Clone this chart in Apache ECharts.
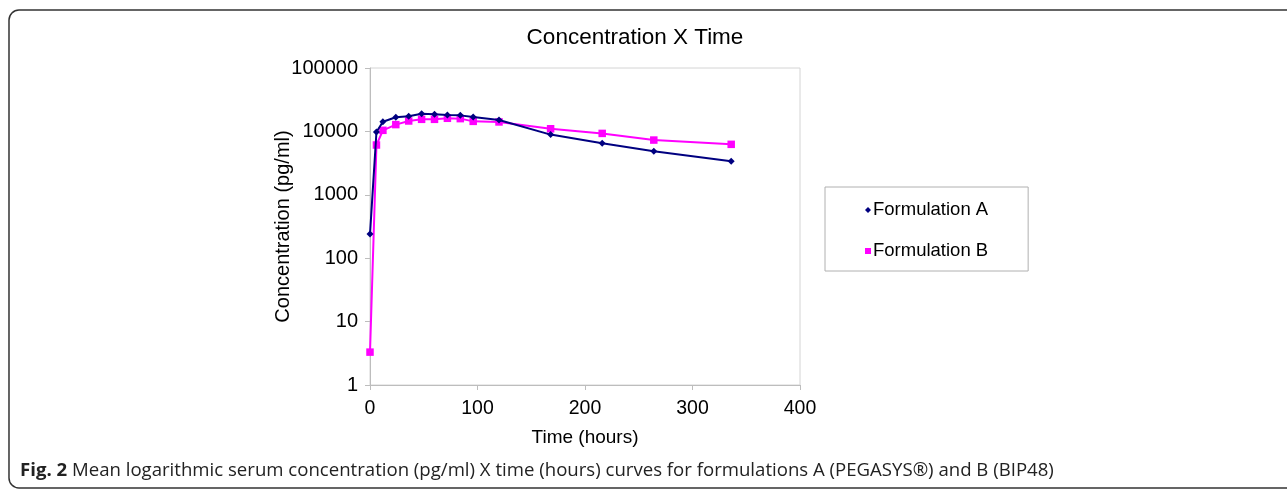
<!DOCTYPE html>
<html>
<head>
<meta charset="utf-8">
<script src="https://cdn.jsdelivr.net/npm/echarts@6/dist/echarts.min.js"></script>
<style>
html,body{margin:0;padding:0;background:#fff;}
#chart{width:1287px;height:490px;}
</style>
</head>
<body>
<div id="chart"></div>
<script>
var chartTitle = 'Concentration X Time';
var xName = 'Time (hours)';
var yName = 'Concentration (pg/ml)';
var seriesNames = ['Formulation A', 'Formulation B'];
var times = [0, 6, 12, 24, 36, 48, 60, 72, 84, 96, 120, 168, 216, 264, 336];
var formA = [240, 9800, 14200, 16700, 17300, 19000, 18600, 18100, 17900, 16900, 15100, 8900, 6500, 4850, 3380];
var formB = [3.3, 6100, 10400, 12800, 14600, 15500, 15500, 16100, 15900, 14400, 14100, 11000, 9300, 7300, 6250];
var captionBold = 'Fig. 2';
var captionText = ' Mean logarithmic serum concentration (pg/ml) X time (hours) curves for formulations A (PEGASYS\u00ae) and B (BIP48)';

function pairs(xs, ys) { return xs.map(function (x, i) { return [x, ys[i]]; }); }

var chart = echarts.init(document.getElementById('chart'), null, {renderer: 'canvas'});
var font = 'Liberation Sans, Arial, sans-serif';
var option = {
  animation: false,
  backgroundColor: '#fff',
  grid: {left: 370, top: 68, width: 430, height: 317, show: true, borderColor: '#d4d4d4', borderWidth: 1, backgroundColor: 'transparent'},
  xAxis: {
    type: 'value', min: 0, max: 400, interval: 100,
    name: xName, nameLocation: 'middle', nameGap: 43, nameMoveOverlap: false,
    nameTextStyle: {fontFamily: font, fontSize: 19, color: '#000'},
    axisLine: {show: true, lineStyle: {color: '#bdbdbd', width: 1}},
    axisTick: {show: true, length: 5, lineStyle: {color: '#bdbdbd'}},
    axisLabel: {fontFamily: font, fontSize: 19.5, color: '#000', margin: 14},
    splitLine: {show: false}
  },
  yAxis: {
    type: 'log', logBase: 10, min: 1, max: 100000, splitNumber: 5,
    name: yName, nameLocation: 'middle', nameGap: 77, nameRotate: 90, nameMoveOverlap: false,
    nameTextStyle: {fontFamily: font, fontSize: 20, color: '#000'},
    axisLine: {show: true, lineStyle: {color: '#bdbdbd', width: 1}},
    axisTick: {show: true, length: 5, lineStyle: {color: '#bdbdbd'}},
    axisLabel: {fontFamily: font, fontSize: 20, color: '#000', margin: 12,
      formatter: function (v) { return String(Math.round(v)); }},
    splitLine: {show: false}
  },
  legend: {
    orient: 'vertical', left: 825, top: 187,
    padding: [13, 40, 10, 40], itemGap: 21,
    borderColor: '#b0b0b0', borderWidth: 1,
    itemWidth: 6, itemHeight: 6,
    textStyle: {fontFamily: font, fontSize: 18.5, color: '#000', lineHeight: 20, padding: [0, 0, 0, -3]},
    data: [{name: seriesNames[0], icon: 'diamond'}, {name: seriesNames[1], icon: 'rect'}]
  },
  series: [
    {name: seriesNames[0], type: 'line', data: pairs(times, formA),
     symbol: 'diamond', symbolSize: 7, showSymbol: true,
     lineStyle: {color: '#000080', width: 2}, itemStyle: {color: '#000080'}, z: 3},
    {name: seriesNames[1], type: 'line', data: pairs(times, formB),
     symbol: 'rect', symbolSize: 7.5, showSymbol: true,
     lineStyle: {color: '#ff00ff', width: 2}, itemStyle: {color: '#ff00ff'}, z: 2}
  ],
  graphic: [
    {type: 'rect', shape: {x: 9, y: 10, width: 1320, height: 478, r: 10}, style: {fill: null, stroke: '#333', lineWidth: 1.5}, silent: true},
    {type: 'text', x: 635, y: 38, style: {text: chartTitle, font: '22.5px ' + font, fill: '#000', textAlign: 'center', textVerticalAlign: 'middle'}},
    {type: 'text', x: 20, y: 471, style: {
      text: '{b|' + captionBold + '}{n|' + captionText + '}',
      textVerticalAlign: 'middle',
      rich: {
        b: {fontFamily: 'Open Sans', fontWeight: 'bold', fontSize: 18.6, fill: '#222'},
        n: {fontFamily: 'Open Sans', fontSize: 18.6, fill: '#222'}
      }
    }}
  ]
};
chart.setOption(option);
</script>
</body>
</html>
